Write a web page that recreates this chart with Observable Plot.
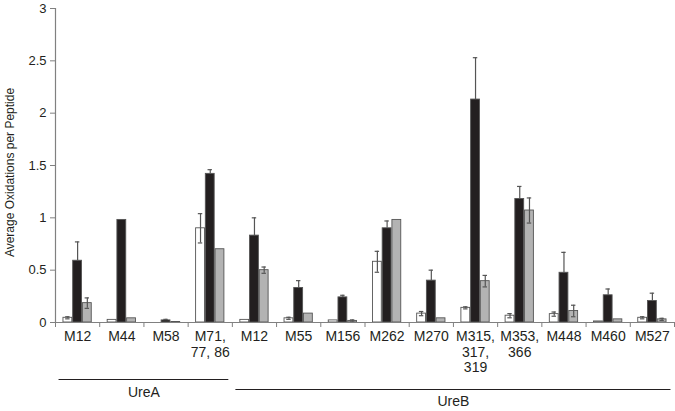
<!DOCTYPE html>
<html>
<head>
<meta charset="utf-8">
<script src="https://cdn.jsdelivr.net/npm/d3@7"></script>
<script src="https://cdn.jsdelivr.net/npm/@observablehq/plot@0.6"></script>
<style>
  body { margin: 0; background: #fff; }
  #chart svg { display: block; }
</style>
</head>
<body>
<div id="chart"></div>
<script>
// ---- data ----
const categories = ["M12 (UreA)", "M44", "M58", "M71, 77, 86", "M12 (UreB)", "M55", "M156", "M262", "M270", "M315, 317, 319", "M353, 366", "M448", "M460", "M527"];
const labels = ["M12", "M44", "M58", "M71,\n77, 86", "M12", "M55", "M156", "M262", "M270", "M315,\n317,\n319", "M353,\n366", "M448", "M460", "M527"];
const groups = ["UreA", "UreA", "UreA", "UreA", "UreB", "UreB", "UreB", "UreB", "UreB", "UreB", "UreB", "UreB", "UreB", "UreB"];
const seriesNames = ["Series 1", "Series 2", "Series 3"];

const series1 = [0.045, 0.025, 0, 0.90, 0.025, 0.04, 0.02, 0.58, 0.085, 0.14, 0.065, 0.08, 0.01, 0.045];
const series1Err = [0.01, 0, 0, 0.14, 0, 0.01, 0, 0.10, 0.02, 0.01, 0.02, 0.02, 0, 0.01];
const series2 = [0.59, 0.98, 0.02, 1.42, 0.83, 0.33, 0.24, 0.90, 0.40, 2.13, 1.18, 0.475, 0.26, 0.205];
const series2Err = [0.18, 0, 0.01, 0.04, 0.17, 0.07, 0.02, 0.07, 0.10, 0.40, 0.12, 0.195, 0.06, 0.075];
const series3 = [0.185, 0.04, 0.005, 0.70, 0.50, 0.085, 0.015, 0.98, 0.04, 0.395, 1.07, 0.11, 0.03, 0.03];
const series3Err = [0.05, 0, 0, 0, 0.03, 0, 0.01, 0, 0, 0.055, 0.12, 0.055, 0, 0.01];

const yTicks = [0, 0.5, 1, 1.5, 2, 2.5, 3];
const yTitle = "Average Oxidations per Peptide";

// ---- table built from the arrays ----
const valueArrays = [series1, series2, series3];
const errArrays = [series1Err, series2Err, series3Err];
const barOffsets = [0.18, 0.40, 0.62];
const barWidth = 0.2;
const rows = [];
categories.forEach((c, i) => {
  seriesNames.forEach((s, k) => {
    const x1 = i + barOffsets[k];
    rows.push({
      category: c, series: s, k,
      value: valueArrays[k][i], err: errArrays[k][i],
      x1, x2: x1 + barWidth, xc: x1 + barWidth / 2
    });
  });
});
const errRows = rows.filter(d => d.err > 0);
const lowerRows = errRows.filter(d => d.k !== 1);

const groupSpans = Array.from(new Set(groups)).map(g => {
  const idx = groups.map((v, i) => v === g ? i : -1).filter(i => i >= 0);
  return { name: g, start: d3.min(idx) + 0.08, end: d3.max(idx) + 1 - 0.08 };
});
const [spanA, spanB] = groupSpans;

const axisColor = "#808080";
const textColor = "#231f20";
const capHalf = 0.05;

const chart = Plot.plot({
  width: 675,
  height: 411,
  marginLeft: 55,
  marginRight: 1,
  marginTop: 8,
  marginBottom: 89,
  style: { fontFamily: "'Liberation Sans', Arial, sans-serif", fontSize: "13px", background: "#fff", color: textColor },
  x: { domain: [0, categories.length], label: null },
  y: { domain: [0, 3], label: null },
  color: { domain: seriesNames, range: ["#ffffff", "#231f20", "#b3b3b3"] },
  marks: [
    Plot.rectY(rows, { x1: "x1", x2: "x2", y: "value", fill: "series", stroke: "#555", strokeWidth: 0.9 }),
    Plot.ruleX(errRows, { x: "xc", y1: d => d.k === 1 ? d.value : d.value - d.err, y2: d => d.value + d.err, stroke: "#555", strokeWidth: 1.2 }),
    Plot.ruleY(errRows, { x1: d => d.xc - capHalf, x2: d => d.xc + capHalf, y: d => d.value + d.err, stroke: "#555", strokeWidth: 1.2 }),
    Plot.ruleY(lowerRows, { x1: d => d.xc - capHalf, x2: d => d.xc + capHalf, y: d => d.value - d.err, stroke: "#555", strokeWidth: 1.2 }),
    Plot.ruleY([0], { stroke: axisColor, strokeWidth: 1.2 }),
    Plot.ruleX([0], { stroke: axisColor, strokeWidth: 1.2 }),
    Plot.axisY({ ticks: yTicks, tickSize: 5, tickPadding: 4, tickFormat: d => String(d), fontSize: 13, label: null, stroke: axisColor, fill: textColor }),
    Plot.axisX({ ticks: d3.range(categories.length + 1), tickSize: 5, tickFormat: () => "", label: null, stroke: axisColor }),
    Plot.axisX({ ticks: d3.range(categories.length).map(i => i + 0.5), tickSize: 0, tickPadding: 8, tickFormat: d => labels[Math.floor(d)], fontSize: 14, lineHeight: 1.1, label: null, fill: textColor }),
    Plot.ruleY([0], { x1: spanA.start, x2: spanA.end, dy: 57, stroke: textColor, strokeWidth: 1.2 }),
    Plot.ruleY([0], { x1: spanB.start, x2: spanB.end, dy: 67, stroke: textColor, strokeWidth: 1.2 }),
    Plot.text([spanA.name], { x: (spanA.start + spanA.end) / 2, y: 0, dy: 70, text: d => d, fontSize: 14, fill: textColor }),
    Plot.text([spanB.name], { x: (spanB.start + spanB.end) / 2, y: 0, dy: 79, text: d => d, fontSize: 14, fill: textColor }),
    Plot.text([yTitle], { frameAnchor: "left", textAnchor: "middle", rotate: -90, dx: -45, dy: 7, text: d => d, fontSize: 12, fill: textColor })
  ]
});
document.getElementById("chart").appendChild(chart);
</script>
</body>
</html>
